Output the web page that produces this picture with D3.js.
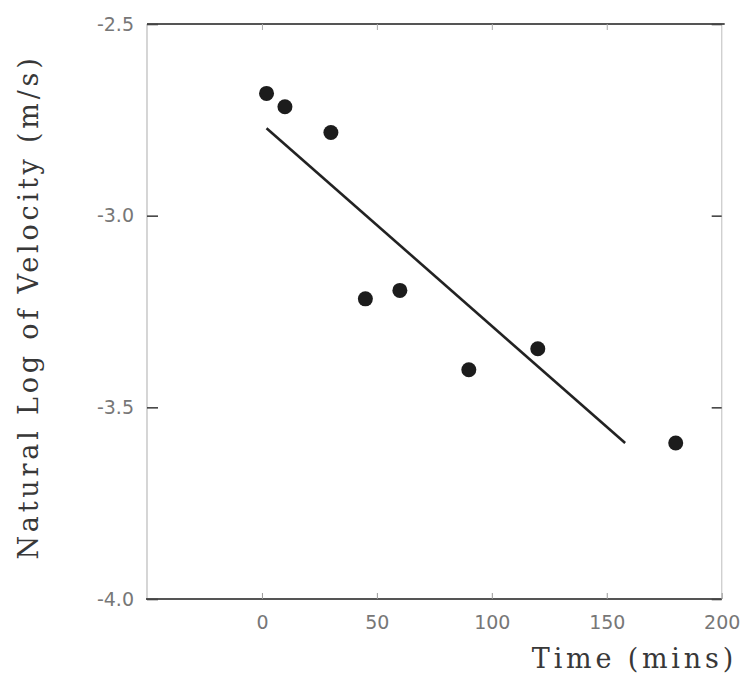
<!DOCTYPE html>
<html>
<head>
<meta charset="utf-8">
<script src="https://cdn.jsdelivr.net/npm/d3@7"></script>
<style>
  body { margin: 0; background: #fff; }
  svg { display: block; }
</style>
</head>
<body>
<div id="chart"></div>
<script>
// Time (mins) vs natural log of velocity, with fitted line
const times = [2, 10, 30, 45, 60, 90, 120, 180];
const lnVelocity = [-2.681, -2.716, -2.783, -3.217, -3.195, -3.402, -3.347, -3.593];
const fitTimes = [2, 158];
const fitValues = [-2.772, -3.593];
const xTicks = [0, 50, 100, 150, 200];
const yTicks = [-4.0, -3.5, -3.0, -2.5];

const width = 743, height = 677;
const plot = { left: 147, right: 721.7, top: 24, bottom: 599 };

const svg = d3.select("#chart").append("svg")
    .attr("width", width)
    .attr("height", height);

const x = d3.scaleLinear().domain([-50, 200]).range([plot.left, plot.right]);
const y = d3.scaleLinear().domain([-4.0, -2.5]).range([plot.bottom, plot.top]);

// frame: faint sides, darker top & bottom
svg.append("line")
    .attr("x1", plot.left).attr("x2", plot.left)
    .attr("y1", plot.top).attr("y2", plot.bottom)
    .attr("stroke", "#c4c4c4").attr("stroke-width", 1.4);
svg.append("line")
    .attr("x1", plot.right).attr("x2", plot.right)
    .attr("y1", plot.top).attr("y2", plot.bottom)
    .attr("stroke", "#d0d0d0").attr("stroke-width", 1.4);
svg.append("line")
    .attr("x1", plot.left).attr("x2", plot.right + 3)
    .attr("y1", plot.top).attr("y2", plot.top)
    .attr("stroke", "#555").attr("stroke-width", 2);
svg.append("line")
    .attr("x1", plot.left - 1).attr("x2", plot.right)
    .attr("y1", plot.bottom).attr("y2", plot.bottom)
    .attr("stroke", "#555").attr("stroke-width", 2);

// left axis with inward ticks
const yAxis = svg.append("g")
    .attr("transform", `translate(${plot.left},0)`)
    .call(d3.axisLeft(y).tickValues(yTicks).tickSize(-11).tickPadding(13)
        .tickFormat(d => d.toFixed(1)));
yAxis.select(".domain").remove();
yAxis.selectAll(".tick line").attr("stroke", "#444").attr("stroke-width", 1.6);
yAxis.selectAll(".tick text")
    .attr("fill", "#777")
    .style("font-family", "'DejaVu Sans', sans-serif")
    .style("font-size", "19px");

// right axis, ticks only
const yAxisR = svg.append("g")
    .attr("transform", `translate(${plot.right},0)`)
    .call(d3.axisRight(y).tickValues(yTicks).tickSize(-10).tickFormat(""));
yAxisR.select(".domain").remove();
yAxisR.selectAll(".tick line").attr("stroke", "#444").attr("stroke-width", 1.6);

// bottom axis
const xAxis = svg.append("g")
    .attr("transform", `translate(0,${plot.bottom})`)
    .call(d3.axisBottom(x).tickValues(xTicks).tickSize(-6).tickPadding(17));
xAxis.select(".domain").remove();
xAxis.selectAll(".tick line").attr("stroke", "#999").attr("stroke-width", 1);
xAxis.selectAll(".tick text")
    .attr("fill", "#777")
    .style("font-family", "'DejaVu Sans', sans-serif")
    .style("font-size", "19px");

// top axis, faint ticks only
const xAxisT = svg.append("g")
    .attr("transform", `translate(0,${plot.top})`)
    .call(d3.axisTop(x).tickValues(xTicks.slice(0, 4)).tickSize(-6).tickFormat(""));
xAxisT.select(".domain").remove();
xAxisT.selectAll(".tick line").attr("stroke", "#aaa").attr("stroke-width", 1);

// fitted line
const fit = fitTimes.map((t, i) => ({ t: t, v: fitValues[i] }));
svg.append("path")
    .datum(fit)
    .attr("fill", "none")
    .attr("stroke", "#222")
    .attr("stroke-width", 2.6)
    .attr("d", d3.line().x(d => x(d.t)).y(d => y(d.v)));

// data points
const points = times.map((t, i) => ({ t: t, v: lnVelocity[i] }));
svg.selectAll("circle.pt")
    .data(points)
    .join("circle")
    .attr("class", "pt")
    .attr("cx", d => x(d.t))
    .attr("cy", d => y(d.v))
    .attr("r", 7.5)
    .attr("fill", "#1c1c1c");

// axis titles
svg.append("text")
    .attr("transform", `translate(28,307) rotate(-90)`)
    .attr("text-anchor", "middle")
    .attr("dominant-baseline", "central")
    .attr("fill", "#383838")
    .style("font-family", "'DejaVu Serif', serif")
    .style("font-size", "27px")
    .style("letter-spacing", "3.8px")
    .text("Natural Log of Velocity (m/s)");

svg.append("text")
    .attr("x", 737)
    .attr("y", 668)
    .attr("text-anchor", "end")
    .attr("fill", "#383838")
    .style("font-family", "'DejaVu Serif', serif")
    .style("font-size", "27px")
    .style("letter-spacing", "3.8px")
    .text("Time (mins)");
</script>
</body>
</html>
